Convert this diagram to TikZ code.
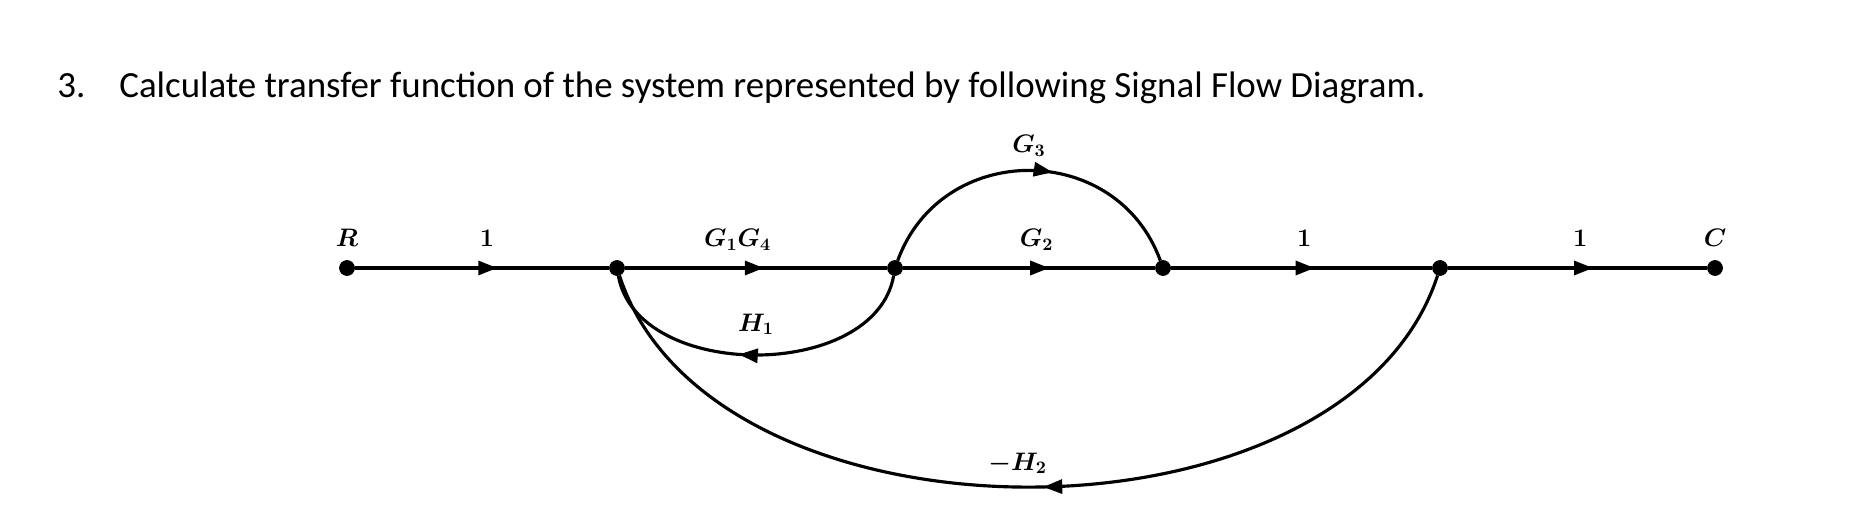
\documentclass[tikz,border=0pt]{standalone}
\usepackage{fontspec}
\usepackage{amsmath}
\newfontfamily\titlefont{Carlito}
\usetikzlibrary{arrows.meta, positioning, decorations.markings}
\tikzset{
    dot/.style={circle, fill=black, draw=black, inner sep=0pt, minimum size=0.3cm},
    branch/.style={line width=1.8pt},
    midarrow/.style={postaction={decorate, decoration={markings,
        mark=at position #1 with {\arrow{Triangle[length=0.38cm, width=0.28cm]}}}}},
    midarrow/.default=0.56,
    gain/.style={inner sep=0pt, font=\fontsize{14}{17}\selectfont\boldmath, anchor=base, yshift=0.42cm},
    titletext/.style={inner sep=0pt, anchor=base west, font=\titlefont\fontsize{21}{25}\selectfont}
}

\begin{document}
\begin{tikzpicture}
    \useasboundingbox (0,0) rectangle (37.42,10.62);

    \node[titletext] (num) at (1.14,8.66) {3.};
    \node[titletext] (title) at (2.38,8.66) {Calculate transfer function of the system represented by following Signal Flow Diagram.};

    % signal nodes
    \node[dot] (R) at (6.94,5.26) {};
    \node[dot] (x1) at (12.34,5.26) {};
    \node[dot] (x2) at (17.90,5.26) {};
    \node[dot] (x3) at (23.26,5.26) {};
    \node[dot] (x4) at (28.80,5.26) {};
    \node[dot] (C) at (34.30,5.26) {};

    \node[gain] (lblR) at (R) {$R$};
    \node[gain] (lblC) at (C) {$C$};

    % forward branches
    \draw[branch, midarrow] (R) -- node[gain, pos=0.52] {$1$} (x1);
    \draw[branch, midarrow=0.53] (x1) -- node[gain, pos=0.43] {$G_1G_4$} (x2);
    \draw[branch, midarrow=0.58] (x2) -- node[gain, pos=0.53] {$G_2$} (x3);
    \draw[branch, midarrow=0.55] (x3) -- node[gain, pos=0.51] {$1$} (x4);
    \draw[branch, midarrow] (x4) -- node[gain, pos=0.51] {$1$} (C);

    % parallel and feedback branches
    \draw[branch, midarrow=0.57] (x2) to[out=70, in=110, looseness=1.25]
        node[gain, pos=0.5, yshift=-0.06cm] {$G_3$} (x3);
    \draw[branch, midarrow=0.55] (x2) to[out=-100, in=-80, looseness=1.0]
        node[gain, pos=0.5, yshift=0.06cm] {$H_1$} (x1);
    \draw[branch, midarrow=0.485] (x4) to[out=-108, in=-72, looseness=0.93]
        node[gain, pos=0.51, yshift=-0.08cm] {$-H_2$} (x1);
\end{tikzpicture}
\end{document}
